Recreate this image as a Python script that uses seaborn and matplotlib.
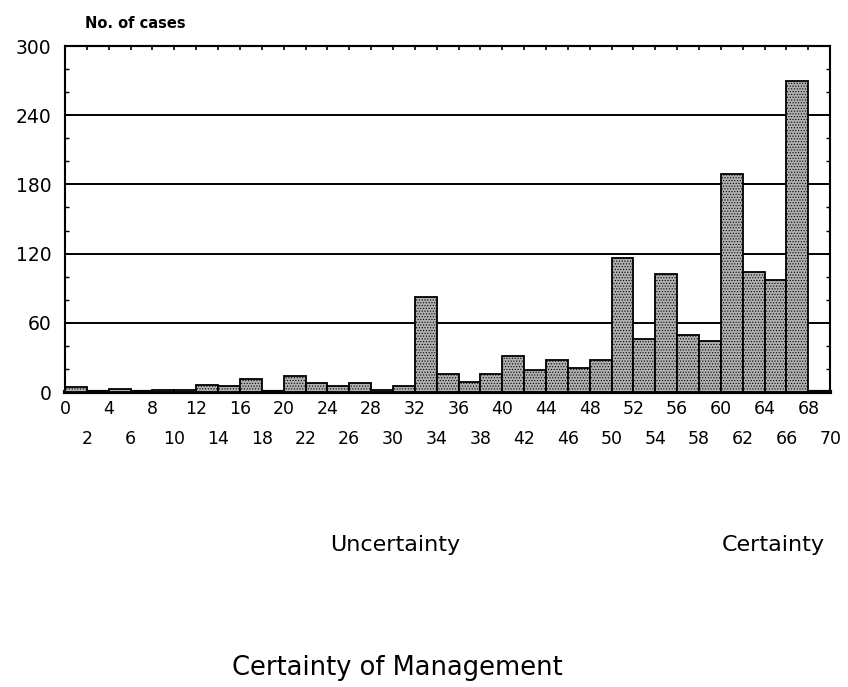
import numpy as np
import pandas as pd
import matplotlib
matplotlib.use("Agg")
import matplotlib.pyplot as plt
import seaborn as sns
from matplotlib.ticker import MultipleLocator

sns.set_theme(style="white")
plt.rcParams['font.family'] = ['DejaVu Sans']
plt.rcParams['hatch.color'] = '#4a4a4a'
plt.rcParams['hatch.linewidth'] = 0.5
plt.rcParams['text.color'] = 'black'
plt.rcParams['xtick.color'] = 'black'
plt.rcParams['ytick.color'] = 'black'

# Data: left edge of each 2-unit bin and its count
bin_left = [0, 2, 4, 6, 8, 10, 12, 14, 16, 18, 20, 22, 24, 26, 28, 30, 32, 34,
            36, 38, 40, 42, 44, 46, 48, 50, 52, 54, 56, 58, 60, 62, 64, 66, 68]
cases = [4, 0, 3, 0, 2, 2, 6, 5, 11, 1, 14, 8, 5, 8, 2, 5, 82, 16,
         9, 16, 31, 19, 28, 21, 28, 116, 46, 102, 49, 44, 189, 104, 97, 270, 0]

major_labels = list(range(0, 69, 4))
minor_labels = list(range(2, 71, 4))

df = pd.DataFrame({"score": [b + 1.0 for b in bin_left],
                   "cases": [float(c) for c in cases]})

fig = plt.figure(figsize=(8.48, 6.87), dpi=100)
ax = fig.add_axes([0.0767, 0.4294, 0.9023, 0.5036])

sns.histplot(data=df, x="score", weights="cases", binwidth=2,
             binrange=(0, 70), ax=ax, color="#b0b0b0", edgecolor="black",
             linewidth=1.3, alpha=1, zorder=3)
for p in ax.patches:
    p.set_hatch("......")

for yv in [60, 120, 180, 240]:
    ax.axhline(yv, color="black", linewidth=1.4, zorder=1)

ax.set_xlim(0, 70)
ax.set_ylim(0, 300)
ax.set_yticks([0, 60, 120, 180, 240, 300])
ax.yaxis.set_minor_locator(MultipleLocator(20))
ax.set_xticks(major_labels)
ax.set_xticklabels([str(v) for v in major_labels])
ax.set_xticks(minor_labels, minor=True)
ax.set_xticklabels([str(v) for v in minor_labels], minor=True)

ax.tick_params(axis="x", which="major", length=0, pad=6, labelsize=12.5)
ax.tick_params(axis="x", which="minor", length=0, pad=27, labelsize=12.5)
ax.tick_params(axis="y", which="major", direction="in", length=4, width=1.2,
               left=True, right=True, pad=10, labelsize=13.5)
ax.tick_params(axis="y", which="minor", direction="in", length=3, width=1,
               left=True, right=True)
ax.set_xlabel("")
ax.set_ylabel("")

# inward ticks on top spine every 2 units
top = ax.secondary_xaxis("top")
top.set_xticks(np.arange(0, 71, 2), labels=[])
top.tick_params(direction="in", length=3, width=1.2)
top.spines["top"].set_linewidth(1.5)

for name, s in ax.spines.items():
    s.set_visible(True)
    s.set_color("black")
    s.set_linewidth(1.5)
ax.spines["bottom"].set_linewidth(3)

fig.text(0.100, 0.955, "No. of cases", fontsize=10.5, fontweight="bold",
         ha="left", va="bottom")
fig.text(0.466, 0.207, "Uncertainty", fontsize=16, ha="center", va="center")
fig.text(0.912, 0.207, "Certainty", fontsize=16, ha="center", va="center")
fig.text(0.469, 0.028, "Certainty of Management", fontsize=18.5,
         ha="center", va="center")

fig.savefig("out.png", dpi=100)
